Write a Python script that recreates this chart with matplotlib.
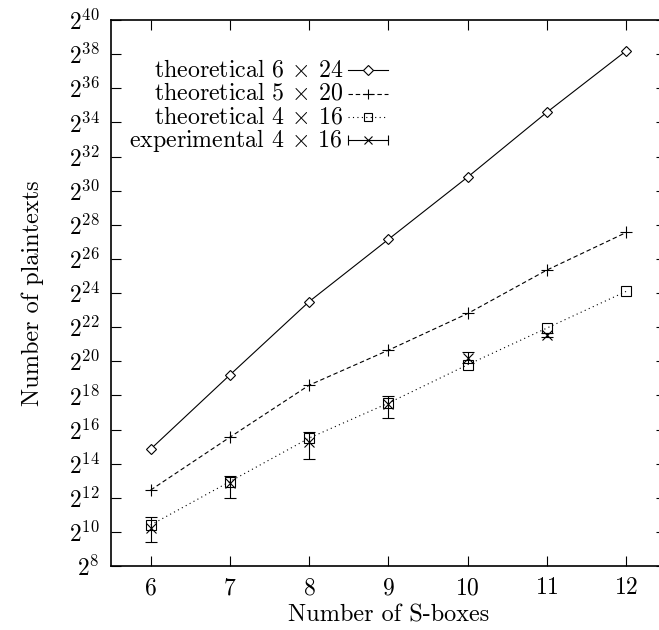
import matplotlib
matplotlib.use("Agg")
import matplotlib.pyplot as plt
from matplotlib.ticker import FixedLocator, FixedFormatter

plt.rcParams['font.family'] = 'cmr10'
plt.rcParams['mathtext.fontset'] = 'cm'
plt.rcParams['axes.unicode_minus'] = False
plt.rcParams['axes.formatter.use_mathtext'] = True

# number of S-boxes
sboxes = [6, 7, 8, 9, 10, 11, 12]
# log2 of the number of plaintexts
theo_6x24 = [14.85, 19.2, 23.5, 27.15, 30.8, 34.6, 38.2]
theo_5x20 = [12.45, 15.55, 18.6, 20.65, 22.8, 25.35, 27.55]
theo_4x16 = [10.4, 12.95, 15.5, 17.55, 19.8, 21.95, 24.1]
exp_sboxes = [6, 7, 8, 9, 10, 11]
exp_4x16 = [10.25, 12.85, 15.25, 17.5, 20.2, 21.55]
exp_hi = [10.85, 13.3, 15.85, 17.95, 20.55, 21.65]
exp_lo = [9.4, 12.0, 14.3, 16.7, 19.9, 21.45]

yticks = list(range(8, 41, 2))

fig = plt.figure(figsize=(6.59, 6.3), dpi=100)
ax = fig.add_axes([111/659, 64/630, 555/659, 546/630])
ax.set_yscale('log', base=2)

lw = 0.8
ax.plot(sboxes, [2**v for v in theo_6x24], color='black', lw=lw, ls='-',
        marker='D', ms=5.5, mfc='white', mec='black', mew=0.8)
ax.plot(sboxes, [2**v for v in theo_5x20], color='black', lw=lw, ls=(0, (4, 2.5)),
        marker='+', ms=8, mew=0.8)
ax.plot(sboxes, [2**v for v in theo_4x16], color='black', lw=lw, ls=(0, (1, 3)),
        marker='s', ms=7, mfc='none', mec='black', mew=0.8)
yv = [2**v for v in exp_4x16]
yerr = [[2**v - 2**l for v, l in zip(exp_4x16, exp_lo)],
        [2**h - 2**v for v, h in zip(exp_4x16, exp_hi)]]
ax.errorbar(exp_sboxes, yv, yerr=yerr, fmt='x', color='black', ms=7, mew=0.8,
            elinewidth=0.8, capsize=4, capthick=0.8)

ax.set_xlim(5.5, 12.5)
ax.set_ylim(2**8, 2**40)
ax.set_xticks(sboxes)
ax.yaxis.set_major_locator(FixedLocator([2**e for e in yticks]))
ax.yaxis.set_major_formatter(FixedFormatter(['$2^{%d}$' % e for e in yticks]))
ax.yaxis.set_minor_locator(FixedLocator([]))
ax.tick_params(direction='in', length=7, width=0.8, top=True, right=True,
               labelsize=17)
ax.tick_params(axis='x', pad=8)
ax.tick_params(axis='y', pad=8)
for s in ax.spines.values():
    s.set_linewidth(1.2)

ax.set_xlabel('Number of S-boxes', fontsize=17.5, labelpad=4)
ax.set_ylabel('Number of plaintexts', fontsize=17.5, labelpad=18)

# key, gnuplot style
def axc(px, py):
    return (px - 111) / 555, (566 - py) / 546

rows = [70, 93.5, 117, 140]
labels = ['theoretical 6 $\\times$ 24', 'theoretical 5 $\\times$ 20',
          'theoretical 4 $\\times$ 16', 'experimental 4 $\\times$ 16']
styles = [dict(ls='-', marker='D', ms=5, mfc='white', mew=0.8),
          dict(ls=(0, (4, 2.5)), marker='+', ms=7, mew=0.8),
          dict(ls=(0, (1, 3)), marker='s', ms=6, mfc='none', mew=0.8),
          dict(ls='-', marker='x', ms=6, mew=0.8)]
for py, lab, st in zip(rows, labels, styles):
    tx, ty = axc(343, py)
    ax.text(tx, ty, lab, transform=ax.transAxes, ha='right', va='center',
            fontsize=17.2)
    x0, _ = axc(348, py)
    x1, _ = axc(388, py)
    xm, _ = axc(368, py)
    ax.plot([x0, x1], [ty, ty], transform=ax.transAxes, color='black', lw=lw,
            ls=st['ls'], clip_on=False)
    ax.plot([xm], [ty], transform=ax.transAxes, color='black', ls='none',
            marker=st['marker'], ms=st['ms'], mew=st['mew'],
            mfc=st.get('mfc', 'black'), mec='black', clip_on=False)
tyx = axc(0, rows[3])[1]
ax.plot([axc(348, 0)[0], axc(388, 0)[0]], [tyx, tyx], transform=ax.transAxes,
        ls='none', marker='|', ms=7, mew=0.8, color='black', clip_on=False)

fig.savefig('out.png', dpi=100)
